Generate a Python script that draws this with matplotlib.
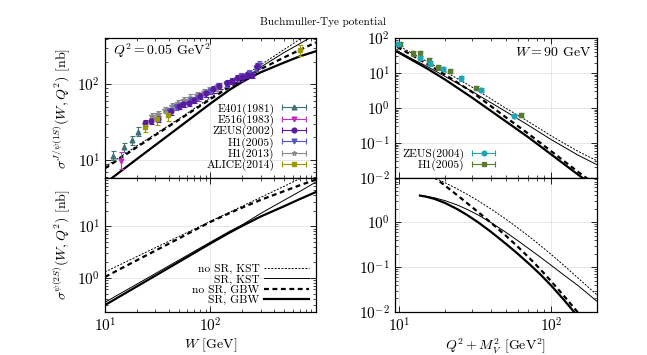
import numpy as np
import matplotlib
matplotlib.use("Agg")
import matplotlib.pyplot as plt
from matplotlib.lines import Line2D
from matplotlib.legend_handler import HandlerLine2D
from matplotlib.ticker import LogLocator, LogFormatterSciNotation, NullFormatter

plt.rcParams['font.family'] = 'serif'
plt.rcParams['font.serif'] = ['cmr10']
plt.rcParams['mathtext.fontset'] = 'cm'
plt.rcParams['axes.formatter.use_mathtext'] = True

# ---- J/psi(1S) vs W, Q^2 = 0.05 GeV^2 : data ----
e401_w = [12.0, 15.2, 17.9, 20.5]
e401_s = [11.5, 14.7, 18.3, 23.6]
e516_w = [14.1]
e516_s = [9.8]
zeus02_w = [24, 27, 32, 42, 50, 55, 62, 70, 80, 90, 105, 120, 144, 160, 179, 200, 224, 250, 278]
zeus02_s = [31, 33, 35, 44, 52, 56, 57, 63, 70, 76, 86, 95, 105, 110, 120, 124, 133, 133, 174]
h1_05_w = [40, 47, 56, 66, 76, 88, 100, 118, 140, 161, 193, 231, 268, 288]
h1_05_s = [45, 50, 55, 62, 67, 74, 82, 95, 102, 110, 129, 142, 166, 183]
h1_13_w = [28, 32, 37, 43, 49, 56, 64, 74, 86, 96, 112]
h1_13_s = [38, 41, 46, 52, 57, 62, 67, 73, 79, 83, 89]
alice_w = [24.1, 31.0, 39.5, 706]
alice_s = [27.5, 34.6, 39.0, 283]

# ---- model curves vs W ----
w_curve = [10, 12, 20, 50, 100, 150, 200, 250, 300, 500, 700, 1000]
jpsi_nosr_kst = [8.2, 9.6, 15.4, 35, 67, 97, 126, 154, 182, 290, 395, 540]
jpsi_sr_kst = [4.9, 6.0, 10.3, 27, 56, 85, 114, 142, 170, 265, 345, 460]
jpsi_nosr_gbw = [7.8, 9.2, 14.8, 34, 64, 92, 117, 139, 160, 228, 285, 360]
jpsi_sr_gbw = [4.9, 6.0, 10.3, 27, 56, 84, 108, 128, 145, 195, 235, 275]

w2_curve = [10, 20, 50, 100, 150, 200, 300, 500, 700, 1000]
psi2s_nosr_kst = [1.31, 2.59, 6.35, 12.5, 18.5, 24.5, 36.3, 59.5, 83, 118]
psi2s_sr_kst = [0.34, 0.76, 2.21, 4.96, 7.9, 10.7, 17.8, 32, 47, 72]
psi2s_nosr_gbw = [1.05, 2.2, 5.8, 12.2, 17.8, 23, 32.5, 48, 62, 80]
psi2s_sr_gbw = [0.30, 0.685, 2.04, 4.66, 7.45, 10.2, 15.5, 24.5, 33.5, 46]

# ---- J/psi(1S) vs Q^2+M^2, W = 90 GeV : data ----
zeus04_q = [9.85, 13.7, 15.9, 19.4, 25.3, 34.4, 56.6]
zeus04_s = [67, 27.4, 18.9, 13.0, 7.05, 3.27, 0.60]
h1_05q_q = [10.1, 12.2, 13.7, 15.7, 18.0, 21.5, 31.7, 63.5]
h1_05q_s = [67, 36.5, 36.5, 23.5, 14.5, 11.4, 3.8, 0.63]

q_curve = [9.65, 12, 15, 20, 30, 50, 70, 100, 150, 200]
q_jpsi_nosr_kst = [63, 38, 22, 11, 4.0, 1.0, 0.42, 0.16, 0.058, 0.031]
q_jpsi_sr_kst = [44, 26, 16, 8.0, 3.0, 0.8, 0.33, 0.125, 0.045, 0.024]
q_jpsi_nosr_gbw = [56, 33, 19, 9.0, 2.9, 0.55, 0.19, 0.058, 0.015, 0.006]
q_jpsi_sr_gbw = [41, 24, 14, 6.5, 2.0, 0.42, 0.15, 0.047, 0.0125, 0.005]

# psi(2S) vs Q^2+M^2
q2s_x = [13.64, 15, 17, 20, 24, 28, 33, 40, 50, 60, 72, 85, 100, 120, 150, 200]
q2s_sr_kst = [3.9, 3.75, 3.48, 3.0, 2.41, 1.91, 1.44, 0.98, 0.60, 0.39, 0.249, 0.165,
              0.109, 0.068, 0.0387, 0.0173]
q2s_sr_gbw = [3.9, 3.68, 3.29, 2.66, 1.95, 1.43, 0.99, 0.61, 0.334, 0.199, 0.115, 0.068,
              0.0385, 0.0193, 0.0079, 0.0025]
q2s_nosr_x = [15, 17, 20, 24, 28, 33, 40, 50, 60, 72, 85, 100, 120, 150, 200]
q2s_nosr_kst = [11.5, 9.66, 7.5, 5.5, 4.14, 2.98, 1.97, 1.18, 0.75, 0.47, 0.30, 0.19,
                0.112, 0.057, 0.024]
q2s_nosr_gbw = [13.5, 9.86, 6.46, 3.98, 2.62, 1.67, 0.975, 0.505, 0.286, 0.157, 0.088,
                0.048, 0.0237, 0.0097, 0.0032]

# line styles for the four model variants
st_nosr_kst = dict(color='black', lw=0.7, ls=(0, (2, 1.5)))
st_sr_kst = dict(color='black', lw=0.7, ls='-')
st_nosr_gbw = dict(color='black', lw=1.6, ls=(0, (2.2, 1.6)))
st_sr_gbw = dict(color='black', lw=1.6, ls='-')


def style_axis(ax):
    ax.set_xscale('log')
    ax.set_yscale('log')
    ax.tick_params(which='both', direction='in', top=True, right=True, labelsize=11)
    ax.tick_params(which='major', length=4, width=0.6)
    ax.tick_params(which='minor', length=2, width=0.5)
    ax.grid(True, which='major', color='#e3e3e3', lw=0.6)
    ax.set_axisbelow(True)
    for sp in ax.spines.values():
        sp.set_linewidth(0.9)
    ax.xaxis.set_minor_locator(LogLocator(base=10, subs=np.arange(2, 10), numticks=20))
    ax.yaxis.set_minor_locator(LogLocator(base=10, subs=np.arange(2, 10), numticks=20))
    ax.xaxis.set_minor_formatter(NullFormatter())
    ax.yaxis.set_minor_formatter(NullFormatter())


def points(ax, x, y, rel, color, marker, ms=3.4):
    y = np.array(y)
    ax.errorbar(x, y, yerr=[y * rel / (1 + rel), y * rel], fmt=marker, color=color,
                ms=ms, elinewidth=0.8, capsize=1.8, capthick=0.8, zorder=3)


def data_legend(ax, entries, loc):
    handles, labels, hmap = [], [], {}
    for lab, col, mk in entries:
        cap = Line2D([], [], color=col, lw=0.8, marker='|', ms=5, mew=0.8)
        dot = Line2D([], [], color=col, ls='none', marker=mk, ms=3.4)
        hmap[cap] = HandlerLine2D(numpoints=2)
        handles.append((cap, dot))
        labels.append(lab)
    ax.legend(handles, labels, handler_map=hmap, loc=loc, frameon=False, fontsize=8.3,
              markerfirst=False, handlelength=2.6, handletextpad=0.4, labelspacing=0.0,
              borderaxespad=0.2)


fig = plt.figure(figsize=(6.47, 3.55), dpi=100)
ax_tl = fig.add_axes([0.1623, 0.4986, 0.326, 0.394])
ax_bl = fig.add_axes([0.1623, 0.1211, 0.326, 0.3775], sharex=ax_tl)
ax_tr = fig.add_axes([0.6105, 0.4986, 0.3122, 0.394])
ax_br = fig.add_axes([0.6105, 0.1211, 0.3122, 0.3775], sharex=ax_tr)
for ax in (ax_tl, ax_bl, ax_tr, ax_br):
    style_axis(ax)

c_e401 = '#3f7373'
c_e516 = '#c22cc2'
c_zeus02 = '#5a1aa0'
c_h105 = '#5555c8'
c_h113 = '#8a8a8a'
c_alice = '#9a9a00'
c_zeus04 = '#20a5b5'
c_h105q = '#5a7a30'

# top-left: J/psi vs W
ax = ax_tl
for y, st in ((jpsi_nosr_kst, st_nosr_kst), (jpsi_sr_kst, st_sr_kst),
              (jpsi_nosr_gbw, st_nosr_gbw), (jpsi_sr_gbw, st_sr_gbw)):
    ax.plot(w_curve, y, **st, zorder=2)
points(ax, e401_w, e401_s, 0.15, c_e401, '^')
points(ax, e516_w, e516_s, 0.3, c_e516, 'v')
points(ax, h1_13_w, h1_13_s, 0.1, c_h113, '*', ms=3.8)
points(ax, h1_05_w, h1_05_s, 0.1, c_h105, 'v')
points(ax, zeus02_w, zeus02_s, 0.1, c_zeus02, 'o')
points(ax, alice_w, alice_s, 0.18, c_alice, 's')
ax.set_xlim(10, 1000)
ax.set_ylim(5.8, 410)
ax.set_yticks([10, 100])
ax.yaxis.set_major_formatter(LogFormatterSciNotation())
ax.tick_params(labelbottom=False)
ax.set_ylabel(r'$\sigma^{J/\psi(1S)}(W,Q^2)$ [nb]', fontsize=10)
ax.text(0.04, 0.91, r'$Q^2 = 0.05$ GeV$^2$', transform=ax.transAxes, fontsize=10, va='center')
data_legend(ax, [('E401(1981)', c_e401, '^'), ('E516(1983)', c_e516, 'v'),
                 ('ZEUS(2002)', c_zeus02, 'o'), ('H1(2005)', c_h105, 'v'),
                 ('H1(2013)', c_h113, '*'), ('ALICE(2014)', c_alice, 's')], 'lower right')

# bottom-left: psi(2S) vs W
ax = ax_bl
for y, st, lab in ((psi2s_nosr_kst, st_nosr_kst, 'no SR, KST'), (psi2s_sr_kst, st_sr_kst, 'SR, KST'),
                   (psi2s_nosr_gbw, st_nosr_gbw, 'no SR, GBW'), (psi2s_sr_gbw, st_sr_gbw, 'SR, GBW')):
    ax.plot(w2_curve, y, **st, label=lab)
ax.set_ylim(0.22, 86)
ax.set_yticks([1, 10])
ax.set_xticks([10, 100])
ax.xaxis.set_major_formatter(LogFormatterSciNotation())
ax.yaxis.set_major_formatter(LogFormatterSciNotation())
ax.set_xlabel(r'$W$ [GeV]', fontsize=10, labelpad=1)
ax.set_ylabel(r'$\sigma^{\psi(2S)}(W,Q^2)$ [nb]', fontsize=10)
ax.legend(loc='lower right', frameon=False, fontsize=8.3, markerfirst=False,
          handlelength=3.9, handletextpad=0.4, labelspacing=0.0, borderaxespad=0.2)

# top-right: J/psi vs Q^2+M^2
ax = ax_tr
for y, st in ((q_jpsi_nosr_kst, st_nosr_kst), (q_jpsi_sr_kst, st_sr_kst),
              (q_jpsi_nosr_gbw, st_nosr_gbw), (q_jpsi_sr_gbw, st_sr_gbw)):
    ax.plot(q_curve, y, **st, zorder=2)
points(ax, h1_05q_q, h1_05q_s, 0.15, c_h105q, 's')
points(ax, zeus04_q, zeus04_s, 0.15, c_zeus04, 'o')
ax.set_xlim(9.34, 200)
ax.set_ylim(0.01, 100)
ax.set_yticks([0.01, 0.1, 1, 10, 100])
ax.yaxis.set_major_formatter(LogFormatterSciNotation())
ax.tick_params(labelbottom=False)
ax.text(0.975, 0.9, r'$W = 90$ GeV', transform=ax.transAxes, fontsize=10, ha='right', va='center')
data_legend(ax, [('ZEUS(2004)', c_zeus04, 'o'), ('H1(2005)', c_h105q, 's')], 'lower left')

# bottom-right: psi(2S) vs Q^2+M^2
ax = ax_br
ax.plot(q2s_nosr_x, q2s_nosr_kst, **st_nosr_kst)
ax.plot(q2s_x, q2s_sr_kst, **st_sr_kst)
ax.plot(q2s_nosr_x, q2s_nosr_gbw, **st_nosr_gbw)
ax.plot(q2s_x, q2s_sr_gbw, **st_sr_gbw)
ax.set_ylim(0.01, 9.6)
ax.set_yticks([0.01, 0.1, 1])
ax.set_xticks([10, 100])
ax.xaxis.set_major_formatter(LogFormatterSciNotation())
ax.yaxis.set_major_formatter(LogFormatterSciNotation())
ax.set_xlabel(r'$Q^2 + M_V^2$ [GeV$^2$]', fontsize=10, labelpad=1)

fig.text(0.5, 1 - 22 / 355, 'Buchmuller-Tye potential', ha='center', va='center', fontsize=8)

fig.savefig('out.png', dpi=100)
